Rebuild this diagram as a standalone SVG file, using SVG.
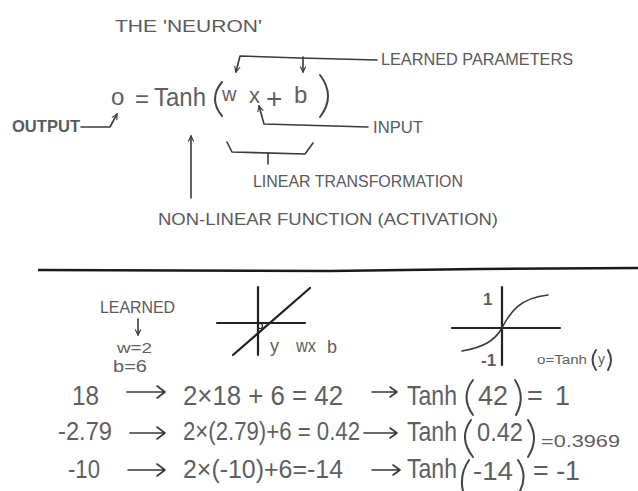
<svg xmlns="http://www.w3.org/2000/svg" width="638" height="491" viewBox="0 0 638 491">
<defs>
<style>
.t{font-family:"Liberation Sans","DejaVu Sans",sans-serif;fill:#5f5f5f}
.c{font-family:"Liberation Sans","DejaVu Sans",sans-serif;fill:#5a5a5a;font-size:17px}
.ln{fill:none;stroke:#3a3a3a;stroke-width:1.6;stroke-linecap:round;stroke-linejoin:round}
.thk{fill:none;stroke:#222;stroke-width:2.2;stroke-linecap:round;stroke-linejoin:round}
.par{fill:none;stroke:#444;stroke-width:2;stroke-linecap:round}
</style>
<marker id="ah" viewBox="0 0 10 10" refX="9" refY="5" markerWidth="7" markerHeight="7" orient="auto" markerUnits="userSpaceOnUse">
<path d="M1,1 L9,5 L1,9" fill="none" stroke="#3a3a3a" stroke-width="1.6"/>
</marker>
</defs>
<rect width="638" height="491" fill="#ffffff"/>

<g id="title"><text class="c" x="115" y="32" font-size="22" textLength="147" lengthAdjust="spacingAndGlyphs">THE 'NEURON'</text></g>

<g id="formula">
<text class="t" x="111" y="105" font-size="24">o</text>
<text class="t" x="135" y="107" font-size="24">=</text>
<text class="t" x="154" y="106" font-size="26" textLength="52" lengthAdjust="spacingAndGlyphs">Tanh</text>
<path class="par" d="M222,82 Q208,99 222,116"/>
<text class="t" x="222" y="101" font-size="20">w</text>
<text class="t" x="249" y="103" font-size="22">x</text>
<text class="t" x="266" y="108" font-size="28">+</text>
<text class="t" x="294" y="103" font-size="24">b</text>
<path class="par" d="M320,75 Q336,96 320,117"/>
</g>

<g id="label-learned-parameters"><text class="c" x="381" y="65" textLength="192" lengthAdjust="spacingAndGlyphs">LEARNED PARAMETERS</text></g>
<g id="label-input"><text class="c" x="373" y="133" textLength="50" lengthAdjust="spacingAndGlyphs">INPUT</text></g>
<g id="label-output"><text class="c" x="12" y="132" font-weight="bold" textLength="68" lengthAdjust="spacingAndGlyphs">OUTPUT</text></g>
<g id="label-linear"><text class="c" x="253" y="187" textLength="210" lengthAdjust="spacingAndGlyphs">LINEAR TRANSFORMATION</text></g>
<g id="label-nonlinear"><text class="c" x="158" y="225" font-size="21" textLength="340" lengthAdjust="spacingAndGlyphs">NON-LINEAR FUNCTION (ACTIVATION)</text></g>

<g id="connectors">
<path class="ln" d="M377,60 L300,58 L240,56 L236,72" marker-end="url(#ah)"/>
<path class="ln" d="M303,57 L303,72" marker-end="url(#ah)"/>
<path class="ln" d="M368,127 L264,124 L259,106" marker-end="url(#ah)"/>
<path class="ln" d="M81,127 L110,127 L117,114" marker-end="url(#ah)"/>
<path class="ln" d="M191,198 L191,136" marker-end="url(#ah)"/>
<path class="ln" d="M227,142 L232,152 L305,154 L313,143"/>
<path class="ln" d="M268,153 L268,164"/>
</g>

<g id="divider"><path d="M38,270 L180,270.5 L330,271 L480,269 L638,268" fill="none" stroke="#1a1a1a" stroke-width="2.6"/></g>

<g id="learned-values">
<text class="c" x="100" y="313" font-size="14" textLength="75" lengthAdjust="spacingAndGlyphs">LEARNED</text>
<path class="ln" d="M138,319 L138,335" marker-end="url(#ah)"/>
<text class="t" x="117" y="353" font-size="14" textLength="35" lengthAdjust="spacingAndGlyphs">w=2</text>
<text class="t" x="113" y="372" font-size="17" textLength="34" lengthAdjust="spacingAndGlyphs">b=6</text>
</g>

<g id="linear-graph">
<path class="thk" d="M258,287 L258,355"/>
<path class="thk" d="M217,323 L305,323"/>
<path class="thk" d="M233,355 L310,288"/>
<circle cx="260" cy="326" r="2.5" fill="none" stroke="#222" stroke-width="1.2"/>
<text class="t" x="270" y="352" font-size="18">y</text>
<text class="t" x="296" y="352" font-size="18" textLength="20" lengthAdjust="spacingAndGlyphs">wx</text>
<text class="t" x="327" y="353" font-size="18">b</text>
</g>

<g id="tanh-graph">
<path class="thk" d="M502,287 L502,365"/>
<path class="thk" d="M452,328 L560,328"/>
<path class="ln" d="M462,351 C485,347 495,340 502,328 C510,312 520,298 548,295" stroke-width="1.8"/>
<text class="t" x="483" y="305" font-size="17" font-weight="bold">1</text>
<text class="t" x="481" y="366" font-size="17" font-weight="bold">-1</text>
<text class="t" x="537" y="364" font-size="12" textLength="50" lengthAdjust="spacingAndGlyphs">o=Tanh</text>
<path class="par" d="M596,350 Q589,360 596,370" stroke-width="1.5"/>
<text class="t" x="598" y="364" font-size="14">y</text>
<path class="par" d="M608,350 Q614,360 608,370" stroke-width="1.5"/>
</g>

<g id="row-1">
<text class="t" x="72" y="405" font-size="27" textLength="27" lengthAdjust="spacingAndGlyphs">18</text>
<path class="ln" d="M127,392 L164,392 M157,386 L165,392 L157,398" stroke-width="2"/>
<text class="t" x="183" y="405" font-size="27" textLength="160" lengthAdjust="spacingAndGlyphs">2×18 + 6 = 42</text>
<path class="ln" d="M372,392 L396,392 M390,387 L397,392 L390,397" stroke-width="2"/>
<text class="t" x="407" y="405" font-size="28" textLength="50" lengthAdjust="spacingAndGlyphs">Tanh</text>
<path class="par" d="M473,380 Q460,397 473,415"/>
<text class="t" x="478" y="405" font-size="27" textLength="30" lengthAdjust="spacingAndGlyphs">42</text>
<path class="par" d="M515,380 Q526,397 516,415"/>
<text class="t" x="527" y="405" font-size="27" textLength="43" lengthAdjust="spacing">=1</text>
</g>

<g id="row-2">
<text class="t" x="58" y="440" font-size="26" textLength="54" lengthAdjust="spacingAndGlyphs">-2.79</text>
<path class="ln" d="M130,433 L164,433 M157,427 L165,433 L157,439" stroke-width="2"/>
<text class="t" x="183" y="440" font-size="26" textLength="177" lengthAdjust="spacingAndGlyphs">2×(2.79)+6 = 0.42</text>
<path class="ln" d="M364,433 L396,433 M390,428 L397,433 L390,438" stroke-width="2"/>
<text class="t" x="407" y="441" font-size="28" textLength="50" lengthAdjust="spacingAndGlyphs">Tanh</text>
<path class="par" d="M471,420 Q458,438 473,457"/>
<text class="t" x="477" y="441" font-size="26" textLength="46" lengthAdjust="spacingAndGlyphs">0.42</text>
<path class="par" d="M528,420 Q540,438 528,457"/>
<text class="t" x="541" y="447" font-size="17" textLength="79" lengthAdjust="spacingAndGlyphs">=0.3969</text>
</g>

<g id="row-3">
<text class="t" x="68" y="478" font-size="26" textLength="32" lengthAdjust="spacingAndGlyphs">-10</text>
<path class="ln" d="M128,470 L164,470 M157,464 L165,470 L157,476" stroke-width="2"/>
<text class="t" x="183" y="478" font-size="26" textLength="160" lengthAdjust="spacingAndGlyphs">2×(-10)+6=-14</text>
<path class="ln" d="M372,470 L399,470 M393,465 L400,470 L393,475" stroke-width="2"/>
<text class="t" x="407" y="478" font-size="28" textLength="50" lengthAdjust="spacingAndGlyphs">Tanh</text>
<path class="par" d="M469,460 Q459,475 463,491"/>
<text class="t" x="473" y="480" font-size="26" textLength="40" lengthAdjust="spacingAndGlyphs">-14</text>
<path class="par" d="M518,460 Q528,475 520,491"/>
<text class="t" x="533" y="480" font-size="27" textLength="47" lengthAdjust="spacingAndGlyphs">= -1</text>
</g>
</svg>
